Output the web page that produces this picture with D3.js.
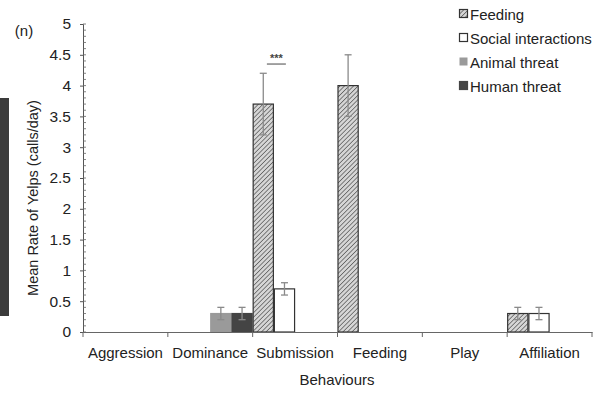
<!DOCTYPE html>
<html>
<head>
<meta charset="utf-8">
<style>
  body { margin: 0; background: #fff; }
  svg { font-family: 'Liberation Sans', Arial, sans-serif; }
</style>
</head>
<body>
<div id="chart"></div>
<script src="https://cdn.jsdelivr.net/npm/d3@7"></script>
<script>
// data
const categories = ['Aggression', 'Dominance', 'Submission', 'Feeding', 'Play', 'Affiliation']
const seriesNames = ['Feeding', 'Social interactions', 'Animal threat', 'Human threat']
const feedingValues = [0, 0, 3.7, 4.0, 0, 0.3]
const feedingErr    = [0, 0, 0.5, 0.5, 0, 0.1]
const socialValues  = [0, 0, 0.7, 0, 0, 0.3]
const socialErr     = [0, 0, 0.1, 0, 0, 0.1]
const animalValues  = [0, 0.3, 0, 0, 0, 0]
const animalErr     = [0, 0.1, 0, 0, 0, 0]
const humanValues   = [0, 0.3, 0, 0, 0, 0]
const humanErr      = [0, 0.1, 0, 0, 0, 0]
const yTicks = [0, 0.5, 1, 1.5, 2, 2.5, 3, 3.5, 4, 4.5, 5]

const series = [
  { name: seriesNames[0], values: feedingValues, err: feedingErr },
  { name: seriesNames[1], values: socialValues, err: socialErr },
  { name: seriesNames[2], values: animalValues, err: animalErr },
  { name: seriesNames[3], values: humanValues, err: humanErr }
]

const W = 599, H = 394
const svg = d3.select('#chart').append('svg')
  .attr('width', W).attr('height', H)

// hatch for the Feeding series
const defs = svg.append('defs')
const pat = defs.append('pattern')
  .attr('id', 'hatch')
  .attr('patternUnits', 'userSpaceOnUse')
  .attr('width', 3.2).attr('height', 3.2)
  .attr('patternTransform', 'rotate(45)')
pat.append('rect').attr('width', 3.2).attr('height', 3.2).attr('fill', '#d6d6d6')
pat.append('line').attr('x1', 0).attr('y1', 0).attr('x2', 0).attr('y2', 3.2)
  .attr('stroke', '#4a4a4a').attr('stroke-width', 1.3)

const fills = {
  'Feeding': 'url(#hatch)',
  'Social interactions': '#ffffff',
  'Animal threat': '#9a9a9a',
  'Human threat': '#444444'
}
const strokes = {
  'Feeding': '#333',
  'Social interactions': '#333',
  'Animal threat': '#9a9a9a',
  'Human threat': '#444444'
}

const x = d3.scaleBand().domain(categories).range([83, 592]).padding(0)
const xs = d3.scaleBand().domain(seriesNames).range([0, x.bandwidth()]).padding(0)
const y = d3.scaleLinear().domain([0, 5]).range([332, 24])

// stray panel edge on the far left of the crop
svg.append('rect').attr('x', 0).attr('y', 98).attr('width', 9).attr('height', 218).attr('fill', '#3b3b3b')

// bars
const bars = []
series.forEach(s => s.values.forEach((v, i) => {
  if (v > 0) bars.push({ name: s.name, cat: categories[i], value: v, err: s.err[i] })
}))

svg.append('g').selectAll('rect')
  .data(bars)
  .join('rect')
  .attr('x', d => x(d.cat) + xs(d.name) + 0.5)
  .attr('y', d => y(d.value))
  .attr('width', xs.bandwidth() - 1)
  .attr('height', d => y(0) - y(d.value))
  .attr('fill', d => fills[d.name])
  .attr('stroke', d => strokes[d.name])
  .attr('stroke-width', 1.2)

// error bars
const eb = svg.append('g').attr('stroke', '#8a8a8a').attr('stroke-width', 1.3)
bars.filter(d => d.err > 0).forEach(d => {
  const cx = x(d.cat) + xs(d.name) + xs.bandwidth() / 2
  eb.append('line').attr('x1', cx).attr('x2', cx).attr('y1', y(d.value + d.err)).attr('y2', y(d.value - d.err))
  eb.append('line').attr('x1', cx - 3.5).attr('x2', cx + 3.5).attr('y1', y(d.value + d.err)).attr('y2', y(d.value + d.err))
  eb.append('line').attr('x1', cx - 3.5).attr('x2', cx + 3.5).attr('y1', y(d.value - d.err)).attr('y2', y(d.value - d.err))
})

// significance mark over Submission
const sx = x('Submission') + xs.bandwidth()
svg.append('line')
  .attr('x1', sx - 7).attr('x2', sx + 12)
  .attr('y1', y(4.35)).attr('y2', y(4.35))
  .attr('stroke', '#666').attr('stroke-width', 1.2)
svg.append('text')
  .attr('x', sx + 2.5).attr('y', y(4.35) - 2)
  .attr('text-anchor', 'middle').attr('font-size', 11).attr('font-weight', 'bold').attr('fill', '#444')
  .text('***')

// y axis
const yAxis = svg.append('g').attr('transform', 'translate(83,0)')
  .call(d3.axisLeft(y).tickValues(yTicks).tickFormat(d3.format('')).tickSize(3).tickPadding(9))
yAxis.selectAll('text').attr('font-size', 15.5).attr('fill', '#222')
yAxis.select('.domain').attr('stroke', '#555')
yAxis.selectAll('.tick line').attr('stroke', '#555')
yAxis.append('g').selectAll('line')
  .data(d3.range(0, 51).map(d => d / 10))
  .join('line')
  .attr('x1', 0).attr('x2', 3)
  .attr('y1', d => y(d)).attr('y2', d => y(d))
  .attr('stroke', '#666').attr('stroke-width', 0.8)

// x axis
const xAxis = svg.append('g').attr('transform', 'translate(0,332)')
  .call(d3.axisBottom(x).tickSize(0).tickPadding(15))
xAxis.select('.domain').attr('stroke', '#666').attr('stroke-width', 1.2)
xAxis.selectAll('text').attr('font-size', 15).attr('fill', '#222')
xAxis.append('g').selectAll('line')
  .data([...categories.map(c => x(c)), 592])
  .join('line')
  .attr('x1', d => d).attr('x2', d => d)
  .attr('y1', 0).attr('y2', 5)
  .attr('stroke', '#666')

// axis titles
svg.append('text')
  .attr('x', 337).attr('y', 385)
  .attr('text-anchor', 'middle').attr('font-size', 15).attr('fill', '#222')
  .text('Behaviours')
svg.append('text')
  .attr('transform', 'translate(38,198) rotate(-90)')
  .attr('text-anchor', 'middle').attr('font-size', 14.5).attr('fill', '#222')
  .text('Mean Rate of Yelps (calls/day)')
svg.append('text')
  .attr('x', 24).attr('y', 36)
  .attr('text-anchor', 'middle').attr('font-size', 15).attr('fill', '#222')
  .text('(n)')

// legend
const legend = svg.append('g').attr('transform', 'translate(459,14)')
const li = legend.selectAll('g').data(seriesNames).join('g')
  .attr('transform', (d, i) => `translate(0,${i * 24})`)
li.append('rect')
  .attr('x', 0.5).attr('y', -4.5).attr('width', 8).attr('height', 8)
  .attr('fill', d => fills[d])
  .attr('stroke', d => d === 'Animal threat' ? 'none' : strokes[d])
  .attr('stroke-width', 1.2)
li.append('text')
  .attr('x', 11).attr('y', 5.5)
  .attr('font-size', 15).attr('fill', '#222')
  .text(d => d)
</script>
</body>
</html>
